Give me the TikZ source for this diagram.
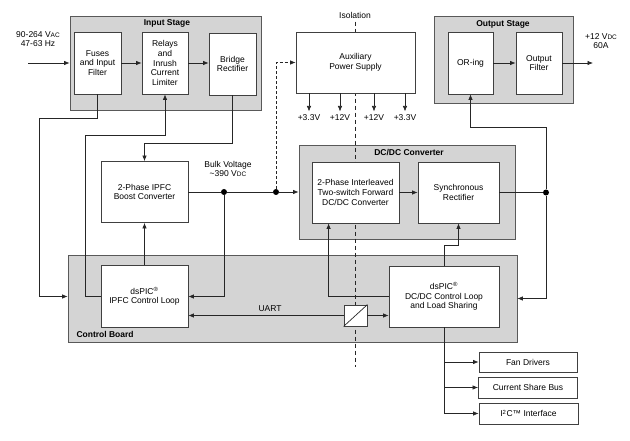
\documentclass[tikz,border=0pt]{standalone}
\usepackage{fontspec}
\setmainfont{Liberation Sans}
\usetikzlibrary{arrows.meta,positioning,calc}
\newcommand{\vsc}[1]{V{\fontsize{6.5}{7}\selectfont #1}}

\begin{document}
\begin{tikzpicture}[x=1pt, y=-1pt,
    font=\fontsize{8.5}{9.6}\selectfont,
    grp/.style={draw=black!65, fill=black!17, line width=0.8pt, inner sep=0},
    blk/.style={draw=black!75, fill=white, line width=0.8pt, align=center, inner sep=0},
    ttl/.style={font=\fontsize{8.5}{9.6}\selectfont\bfseries},
    con/.style={line width=0.7pt, draw=black!85},
    arr/.style={con, -{Latex[length=5.5pt,width=4.5pt]}},
    dot/.style={circle, fill=black, inner sep=0, minimum size=6pt}]

  \useasboundingbox (0,0) rectangle (630,441);

  \node[grp, minimum width=191, minimum height=94] at (165.5,63)  (inStage)  {};
  \node[grp, minimum width=139, minimum height=87] at (503.5,59.5) (outStage) {};
  \node[grp, minimum width=216, minimum height=94] at (407,192)   (dcdc)     {};
  \node[grp, minimum width=449, minimum height=87] at (292.5,298.5) (ctrl)   {};

  \node[ttl] at (167,23)  (inTtl)   {Input Stage};
  \node[ttl] at (503,24)  (outTtl)  {Output Stage};
  \node[ttl] at (409,153) (dcdcTtl) {DC/DC Converter};
  \node[ttl, anchor=west] at (73,334) (ctrlTtl) {Control Board};

  \node at (355,15) (isoTxt) {Isolation};
  \coordinate (isoEnd) at (355,367);
  \draw[con, dash pattern=on 4pt off 3pt] (isoTxt.south) -- (isoEnd);

  \node[blk, minimum width=47,  minimum height=62] at (97.5,63)   (fuses)   {Fuses\\and Input\\Filter};
  \node[blk, minimum width=46,  minimum height=62] at (165,63)    (relays)  {Relays\\and\\Inrush\\Current\\Limiter};
  \node[blk, minimum width=47,  minimum height=62] at (232.5,64)  (bridge)  {Bridge\\Rectifier};
  \node[blk, minimum width=119, minimum height=61] at (355.5,62.5) (aux)    {Auxiliary\\Power Supply};
  \node[blk, minimum width=45,  minimum height=62] at (470.5,63)  (oring)   {OR-ing};
  \node[blk, minimum width=46,  minimum height=62] at (539,63)    (ofilter) {Output\\Filter};
  \node[blk, minimum width=87,  minimum height=61] at (144.5,192) (ipfc)    {2-Phase IPFC\\Boost Converter};
  \node[blk, minimum width=87,  minimum height=61] at (355.5,192.5) (fwd)   {2-Phase Interleaved\\Two-switch Forward\\DC/DC Converter};
  \node[blk, minimum width=81,  minimum height=61] at (458.5,192.5) (sync)  {Synchronous\\Rectifier};
  \node[blk, minimum width=87,  minimum height=62] at (144.5,296.5) (ipfcCtl) {dsPIC\textsuperscript{\textregistered}\\IPFC Control Loop};
  \node[blk, minimum width=110, minimum height=61] at (444,296.5) (dcCtl)   {dsPIC\textsuperscript{\textregistered}\\DC/DC Control Loop\\and Load Sharing};
  \node[blk, minimum width=23,  minimum height=21] at (355.5,315.5) (iso)   {};
  \node[blk, minimum width=98,  minimum height=20] at (528,362)   (fan)     {Fan Drivers};
  \node[blk, minimum width=99,  minimum height=21] at (528,387.5) (share)   {Current Share Bus};
  \node[blk, minimum width=99,  minimum height=21] at (528.5,413.5) (i2c)   {I\textsuperscript{2}C\texttrademark\ Interface};

  \node[align=center] at (38,39)   (acIn)  {90-264 \vsc{AC}\\47-63 Hz};
  \node[align=center] at (601,41)  (dcOut) {+12 \vsc{DC}\\60A};
  \node[align=center] at (228,169) (bulk)  {Bulk Voltage\\\textasciitilde 390 \vsc{DC}};
  \node at (270,309) (uart) {UART};
  \node at (309,118) (v1) {+3.3V};
  \node at (340,118) (v2) {+12V};
  \node at (374,118) (v3) {+12V};
  \node at (405,118) (v4) {+3.3V};

  \coordinate (inPt)  at (28,63);
  \coordinate (outPt) at (593,63);
  \node[dot] at (224,192)   (d1) {};
  \node[dot] at (276,192)   (d2) {};
  \node[dot] at (546,192.5) (d3) {};

  \draw[arr] (inPt) -- (inStage.west);
  \draw[arr] (fuses) -- (relays);
  \draw[arr] (relays) -- (relays -| bridge.west);
  \draw[arr] (oring) -- (ofilter);
  \draw[arr] (ofilter) -- (outPt);
  \draw[arr] (aux.south -| v1) -- (v1.north);
  \draw[arr] (aux.south -| v2) -- (v2.north);
  \draw[arr] (aux.south -| v3) -- (v3.north);
  \draw[arr] (aux.south -| v4) -- (v4.north);

  \draw[arr] (fuses.south) |- (39,118) |- (ctrl.west |- ipfcCtl.west);
  \draw[arr] (ipfcCtl.west) -| (85,135) -| (relays.south);
  \draw[arr] (bridge.south) |- ($(ipfc.north)+(0,-18)$) -- (ipfc.north);
  \draw[con] (ipfc.east |- d1) -- (d1) -- (d2);
  \draw[arr] (d2) -- (dcdc.west |- d2);
  \draw[arr, dash pattern=on 3pt off 2pt] (d2) |- (aux.west);
  \draw[arr] (d1) |- (ipfcCtl.east);
  \draw[arr] (ipfcCtl) -- (ipfc);

  \draw[arr] (iso.west) -- (ipfcCtl.east |- iso.west);
  \draw[arr] (iso.east) -- (dcCtl.west |- iso.east);
  \draw[con] (iso.south west) -- (iso.north east);

  \draw[arr] (dcCtl.west) -| ([xshift=17]fwd.south west);
  \draw[arr] (dcCtl.north) -- ++(0,-20) -| (sync.south);
  \draw[arr] (fwd) -- (sync);
  \draw[con] (sync) -- (d3);
  \draw[arr] (d3) -- ++(0,-65.5) -| (oring.south);
  \draw[arr] (d3) |- (ctrl.east);

  \draw[arr] (dcCtl.south) |- (fan.west);
  \draw[arr] (dcCtl.south) |- (share.west);
  \draw[arr] (dcCtl.south) |- (i2c.west);
\end{tikzpicture}
\end{document}
